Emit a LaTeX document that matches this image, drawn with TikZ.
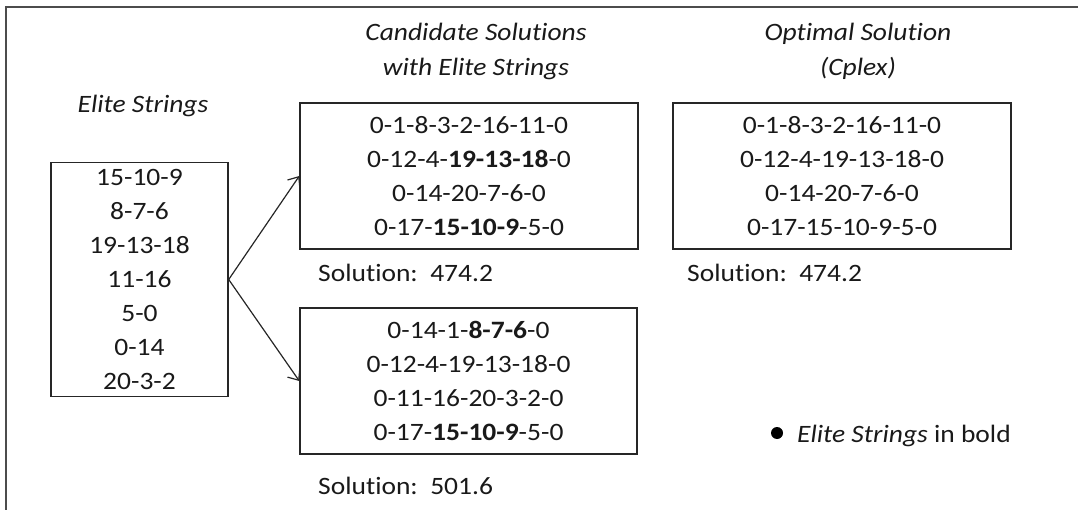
\documentclass[tikz,border=0pt]{standalone}
\usepackage{fontspec}
\setmainfont[FakeStretch=1.1,Ligatures={NoCommon,NoContextual}]{Carlito}
\usetikzlibrary{arrows.meta}
\begin{document}
\begin{tikzpicture}[x=1pt,y=-1pt,
  txt/.style={font=\fontsize{25}{34}\selectfont, text=black!90},
  box/.style={txt, draw=black!85, line width=1.4pt, align=center, inner sep=0pt},
  head/.style={font=\itshape\fontsize{25}{35}\selectfont, text=black!90, align=center, inner sep=0pt},
  sol/.style={txt, anchor=base west, inner sep=0pt},
  conn/.style={line width=1.2pt, draw=black!85, -{Straight Barb[length=9pt,width=15pt,line width=1.2pt]}},
  frame/.style={line width=2pt, draw=black!70}
]
\useasboundingbox (0,0) rectangle (1078,510);
% outer frame (top and left edges)
\coordinate (fa) at (6,510);
\coordinate (fb) at (6,7);
\coordinate (fc) at (1078,7);
\draw[frame] (fa) -- (fb) -- (fc);

% headings
\node[head] (helite) at (143,106) {Elite Strings};
\node[head] (hcand) at (476,51) {Candidate Solu\kern0pt tions\\with Elite Strings};
\node[head] (hopt) at (858,51) {Optimal Solu\kern0pt tion\\(Cplex)};

% boxes
\node[box, minimum width=177pt, minimum height=234pt] (elite) at (139.5,279.5)
  {15-10-9\\8-7-6\\19-13-18\\11-16\\5-0\\0-14\\20-3-2};
\node[box, minimum width=338pt, minimum height=146pt] (cand1) at (469,176)
  {0-1-8-3-2-16-11-0\\0-12-4-\textbf{19-13-18}-0\\0-14-20-7-6-0\\0-17-\textbf{15-10-9}-5-0};
\node[box, minimum width=337pt, minimum height=146pt] (cand2) at (468.5,381)
  {0-14-1-\textbf{8-7-6}-0\\0-12-4-19-13-18-0\\0-11-16-20-3-2-0\\0-17-\textbf{15-10-9}-5-0};
\node[box, minimum width=338pt, minimum height=146pt] (opt) at (842,176)
  {0-1-8-3-2-16-11-0\\0-12-4-19-13-18-0\\0-14-20-7-6-0\\0-17-15-10-9-5-0};

% solution values
\node[sol] (s1) at (318,282) {Solu\kern0pt tion:\ \ 474.2};
\node[sol] (s2) at (318,494) {Solu\kern0pt tion:\ \ 501.6};
\node[sol] (s3) at (687,282) {Solu\kern0pt tion:\ \ 474.2};

% legend
\node[circle, fill=black, minimum size=12pt, inner sep=0pt] (bullet) at (777,433) {};
\node[sol] (legend) at (797,442) {\textit{Elite Strings} in bold};

% connectors
\draw[conn] (elite.east) -- (cand1.west);
\draw[conn] (elite.east) -- (cand2.west);
\end{tikzpicture}
\end{document}
